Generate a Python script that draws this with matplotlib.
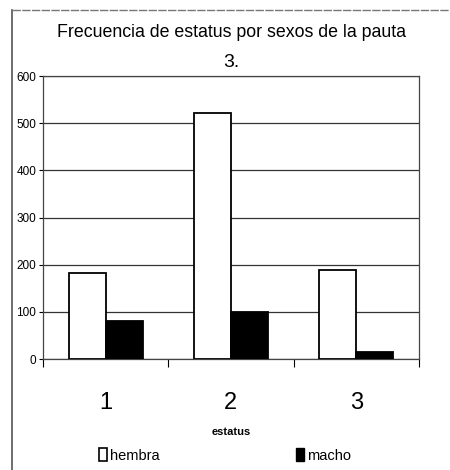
import matplotlib.pyplot as plt
from matplotlib.patches import Patch
from matplotlib.lines import Line2D
import numpy as np

# data
estatus = ["1", "2", "3"]
hembra = [183, 522, 188]
macho = [80, 99, 16]
y_ticks = [0, 100, 200, 300, 400, 500, 600]

plt.rcParams['font.family'] = ['Liberation Sans', 'DejaVu Sans']

fig = plt.figure(figsize=(4.5, 4.7), dpi=100)
ax = fig.add_axes([0.0956, 0.236, 0.835, 0.602])

x = np.arange(len(estatus))
w = 0.295
ax.bar(x - w / 2, hembra, w, color="white", edgecolor="black", linewidth=1.3, zorder=3)
ax.bar(x + w / 2, macho, w, color="black", edgecolor="black", linewidth=1.3, zorder=3)

ax.set_xlim(-0.5, len(estatus) - 0.5)
ax.set_ylim(0, 600)
ax.set_yticks(y_ticks)
ax.set_yticklabels([str(v) for v in y_ticks], fontsize=8.5)
ax.tick_params(axis="y", length=3, width=0.8, pad=2)
ax.yaxis.grid(True, color="#333333", linewidth=0.9, zorder=0)

# ticks at the boundaries, labels at the centres
ax.set_xticks(np.arange(len(estatus) + 1) - 0.5)
ax.set_xticklabels([])
ax.tick_params(axis="x", which="major", length=6, width=0.8, direction="out")
ax.set_xticks(x, minor=True)
ax.set_xticklabels(estatus, minor=True, fontsize=17)
ax.tick_params(axis="x", which="minor", length=0, pad=24)
ax.set_xlabel("estatus", fontsize=8, fontweight="bold", labelpad=9)

for s in ax.spines.values():
    s.set_color("#444444")
    s.set_linewidth(0.9)

fig.text(0.515, 0.93, "Frecuencia de estatus por sexos de la pauta", ha="center",
         va="center", fontsize=12.8)
fig.text(0.515, 0.868, "3.", ha="center", va="center", fontsize=14)

handles = [Patch(facecolor="white", edgecolor="black", linewidth=1.2),
           Patch(facecolor="black", edgecolor="black")]
fig.legend(handles, ["hembra", "macho"], loc="center", bbox_to_anchor=(0.5, 0.031),
           ncol=2, frameon=False, fontsize=10.5, handlelength=0.55, handleheight=1.0,
           handletextpad=0.25, columnspacing=9.3)

# chart frame (cropped on right and bottom)
fig.add_artist(Line2D([12 / 450, 12 / 450], [0, 1 - 10 / 470], color="#555555", linewidth=1.2))
fig.add_artist(Line2D([12 / 450, 1], [1 - 10 / 470, 1 - 10 / 470], color="#777777",
                      linewidth=1.0, linestyle=(0, (6, 1))))

fig.savefig("out.png", dpi=100)
